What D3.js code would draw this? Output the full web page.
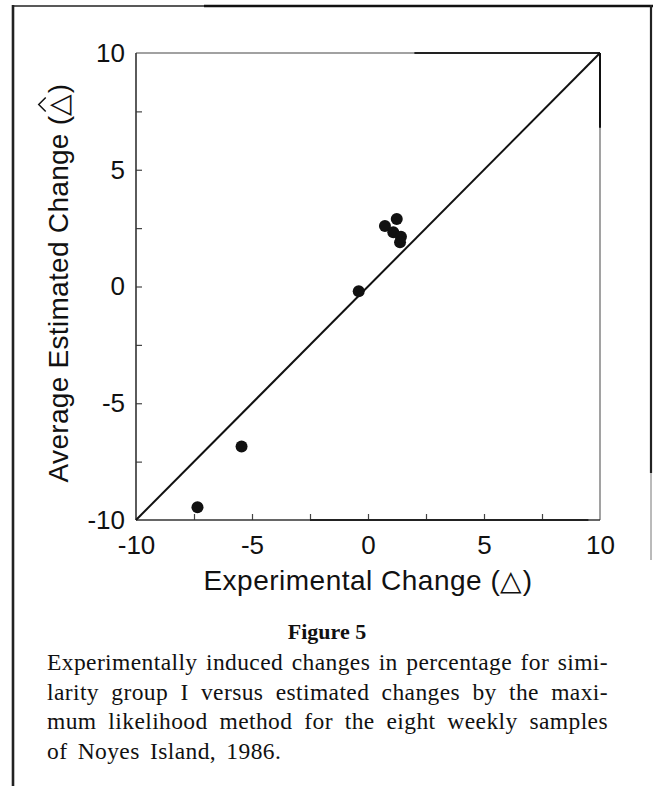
<!DOCTYPE html>
<html>
<head>
<meta charset="utf-8">
<script src="https://cdn.jsdelivr.net/npm/d3@7"></script>
<style>
  body { margin: 0; background: #fff; }
  svg { display: block; }
</style>
</head>
<body>
<svg id="chart" width="653" height="786"></svg>
<script>
// Global Variables
const width = 653;
const height = 786;
const svg = d3.select("#chart");

// Data
const expChange = [-7.35, -5.45, -0.4, 0.73, 1.24, 1.09, 1.42, 1.38];
const estChange = [-9.45, -6.85, -0.2, 2.59, 2.89, 2.32, 2.13, 1.89];
const tickMarks = [-7.5, -5, -2.5, 0, 2.5, 5, 7.5];
const tickLabels = [-10, -5, 0, 5, 10];
const xTitle = "Experimental Change (\u25B3)";
const yTitle = "Average Estimated Change (\u25B3)";
const figureTitle = "Figure 5";
const captionLines = [
  "Experimentally induced changes in percentage for simi-",
  "larity group I versus estimated changes by the maxi-",
  "mum likelihood method for the eight weekly samples",
  "of Noyes Island, 1986."
];

const sans = "'Liberation Sans', Arial, Helvetica, sans-serif";
const serif = "'Liberation Serif', 'DejaVu Serif', serif";

const plot = { left: 136, right: 600, top: 53, bottom: 520 };

const x = d3.scaleLinear().domain([-10, 10]).range([plot.left, plot.right]);
const y = d3.scaleLinear().domain([-10, 10]).range([plot.bottom, plot.top]);

// Outer frame of the page scan
svg.append("line").attr("x1", 12).attr("x2", 205).attr("y1", 6).attr("y2", 6)
  .attr("stroke", "#222").attr("stroke-width", 1.6);
svg.append("line").attr("x1", 204).attr("x2", 653).attr("y1", 6).attr("y2", 6)
  .attr("stroke", "#111").attr("stroke-width", 2.6);
svg.append("line").attr("x1", 13).attr("x2", 13).attr("y1", 5).attr("y2", height)
  .attr("stroke", "#222").attr("stroke-width", 2.6);
svg.append("line").attr("x1", 651).attr("x2", 651).attr("y1", 5).attr("y2", 473)
  .attr("stroke", "#222").attr("stroke-width", 2.2);
svg.append("line").attr("x1", 651).attr("x2", 651).attr("y1", 473).attr("y2", 560)
  .attr("stroke", "#777").attr("stroke-width", 1);

// Plot box (top and right sides thin, with darker scan segments)
svg.append("line").attr("x1", plot.left).attr("x2", plot.right).attr("y1", plot.top).attr("y2", plot.top)
  .attr("stroke", "#444").attr("stroke-width", 1.2);
svg.append("line").attr("x1", x(2)).attr("x2", plot.right).attr("y1", plot.top).attr("y2", plot.top)
  .attr("stroke", "#222").attr("stroke-width", 1.8);
svg.append("line").attr("x1", plot.right).attr("x2", plot.right).attr("y1", plot.top).attr("y2", plot.bottom)
  .attr("stroke", "#555").attr("stroke-width", 1.1);
svg.append("line").attr("x1", plot.right).attr("x2", plot.right).attr("y1", plot.top).attr("y2", y(6.8))
  .attr("stroke", "#111").attr("stroke-width", 2);

// Inward tick marks
svg.append("g")
  .attr("transform", `translate(0,${plot.bottom})`)
  .call(d3.axisBottom(x).tickValues(tickMarks).tickSize(-6).tickFormat(""))
  .call(g => g.select(".domain").remove())
  .selectAll("line").attr("stroke", "#444").attr("stroke-width", 1.2);
svg.append("g")
  .attr("transform", `translate(${plot.left},0)`)
  .call(d3.axisLeft(y).tickValues(tickMarks).tickSize(-6).tickFormat(""))
  .call(g => g.select(".domain").remove())
  .selectAll("line").attr("stroke", "#444").attr("stroke-width", 1.2);

// Axis lines
svg.append("line").attr("x1", plot.left).attr("x2", plot.right).attr("y1", plot.bottom).attr("y2", plot.bottom)
  .attr("stroke", "#333").attr("stroke-width", 1.5);
svg.append("line").attr("x1", x(-2.5)).attr("x2", x(9.5)).attr("y1", plot.bottom).attr("y2", plot.bottom)
  .attr("stroke", "#222").attr("stroke-width", 2);
svg.append("line").attr("x1", plot.left).attr("x2", plot.left).attr("y1", plot.top).attr("y2", plot.bottom)
  .attr("stroke", "#333").attr("stroke-width", 1.6);

// Tick labels (plain hyphen for negatives, as in the original)
const xLab = svg.append("g")
  .attr("transform", `translate(0,${plot.bottom})`)
  .call(d3.axisBottom(x).tickValues(tickLabels).tickSize(0).tickPadding(16).tickFormat(d => String(d)));
xLab.select(".domain").remove();
xLab.selectAll("text").attr("font-family", sans).attr("font-size", 26).attr("fill", "#111");

const yLab = svg.append("g")
  .attr("transform", `translate(${plot.left},0)`)
  .call(d3.axisLeft(y).tickValues(tickLabels).tickSize(0).tickPadding(11).tickFormat(d => String(d)));
yLab.select(".domain").remove();
yLab.selectAll("text").attr("font-family", sans).attr("font-size", 26).attr("fill", "#111");

// 1:1 line
svg.append("line")
  .attr("x1", x(-10)).attr("y1", y(-10))
  .attr("x2", x(10)).attr("y2", y(10))
  .attr("stroke", "#111").attr("stroke-width", 2);

// Points
svg.append("g")
  .selectAll("circle")
  .data(expChange.map((d, i) => ({ exp: d, est: estChange[i] })))
  .enter().append("circle")
  .attr("cx", d => x(d.exp))
  .attr("cy", d => y(d.est))
  .attr("r", 6)
  .attr("fill", "#111");

// X axis title
svg.append("text")
  .attr("x", 368)
  .attr("y", 590)
  .attr("text-anchor", "middle")
  .attr("font-family", sans)
  .attr("font-size", 28)
  .attr("letter-spacing", 0.5)
  .attr("fill", "#111")
  .text(xTitle);

// Y axis title with hat over the delta
const yTitleG = svg.append("g").attr("transform", `translate(68,283) rotate(-90)`);
const yText = yTitleG.append("text")
  .attr("x", 0).attr("y", 0)
  .attr("text-anchor", "middle")
  .attr("font-family", sans)
  .attr("font-size", 28)
  .attr("letter-spacing", 0.3)
  .attr("fill", "#111")
  .text(yTitle);
const triIdx = yTitle.indexOf("\u25B3");
const ext = yText.node().getExtentOfChar(triIdx);
const hx = ext.x + ext.width / 2;
const hy = ext.y + ext.height * 0.12;
yTitleG.append("path")
  .attr("d", `M${hx - 7},${hy - 1} L${hx},${hy - 8} L${hx + 7},${hy - 1}`)
  .attr("fill", "none").attr("stroke", "#111").attr("stroke-width", 1.5);

// Caption
svg.append("text")
  .attr("x", 327).attr("y", 639)
  .attr("text-anchor", "middle")
  .attr("font-family", serif)
  .attr("font-weight", "bold")
  .attr("font-size", 22)
  .attr("fill", "#111")
  .text(figureTitle);

const capLeft = 47, capRight = 608;
svg.append("g")
  .selectAll("text")
  .data(captionLines)
  .enter().append("text")
  .attr("x", capLeft)
  .attr("y", (d, i) => 670 + i * 29.6)
  .attr("font-family", serif)
  .attr("font-size", 23.5)
  .attr("letter-spacing", 0.4)
  .attr("fill", "#111")
  .text(d => d)
  .each(function (d, i) {
    // justify the first three lines by widening word gaps
    const spaces = (d.match(/ /g) || []).length;
    const natural = this.getComputedTextLength();
    const target = i < 3 ? capRight - capLeft : natural + 12;
    if (spaces > 0) d3.select(this).attr("word-spacing", (target - natural) / spaces);
  });
</script>
</body>
</html>
